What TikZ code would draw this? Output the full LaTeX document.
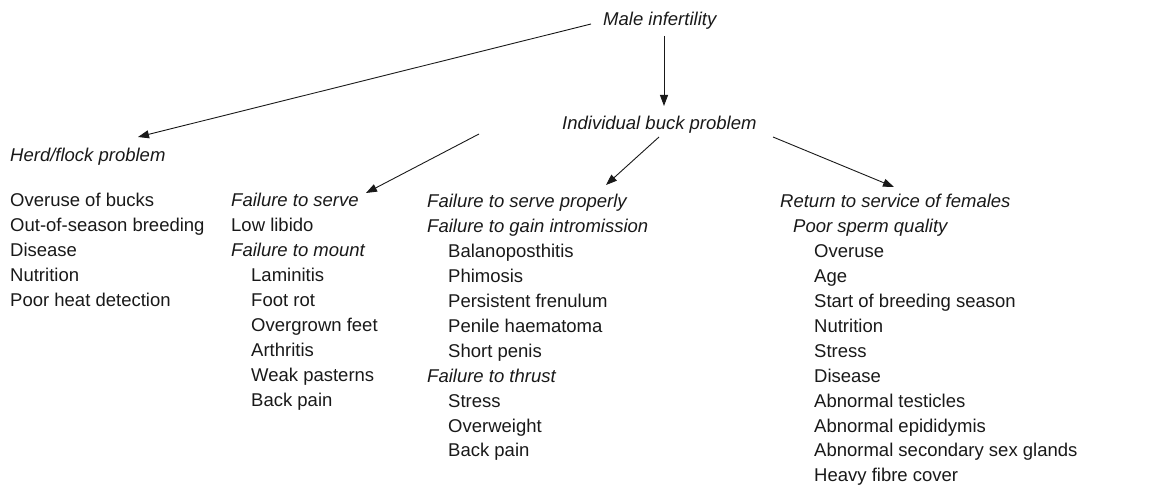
\documentclass[tikz,border=0pt]{standalone}
\usepackage{fontspec}
\setmainfont{Liberation Sans}
\usetikzlibrary{arrows.meta}
\begin{document}
\begin{tikzpicture}[x=1pt,y=-1pt,
  txt/.style={inner sep=0pt, anchor=base west, text=black!90, font=\fontsize{18.5}{24}\selectfont},
  head/.style={txt, font=\fontsize{18.5}{24}\selectfont\itshape},
  arr/.style={line width=0.9pt, black!90, -{Triangle[length=11pt,width=8pt]}}]
\useasboundingbox (0,0) rectangle (1163,486);
% top level
\node[head] (male) at (603,26) {Male infertility};
\node[head] (ind) at (562,130) {Individual buck problem};
\node[head] (herd) at (10,162) {Herd/flock problem};
% column 1
\foreach \t [count=\i from 0] in {Overuse of bucks,Out-of-season breeding,Disease,Nutrition,Poor heat detection}
  {\node[txt] (a\i) at (10,{207+24.9*\i}) {\t};}
% column 2
\foreach \x/\f/\t [count=\i from 0] in {231/\itshape/Failure to serve,231/\upshape/Low libido,231/\itshape/Failure to mount,251/\upshape/Laminitis,251/\upshape/Foot rot,251/\upshape/Overgrown feet,251/\upshape/Arthritis,251/\upshape/Weak pasterns,251/\upshape/Back pain}
  {\node[txt] (b\i) at (\x,{207+24.9*\i}) {\f\t};}
% column 3
\foreach \x/\f/\t [count=\i from 0] in {427/\itshape/Failure to serve properly,427/\itshape/Failure to gain intromission,448/\upshape/Balanoposthitis,448/\upshape/Phimosis,448/\upshape/Persistent frenulum,448/\upshape/Penile haematoma,448/\upshape/Short penis,427/\itshape/Failure to thrust,448/\upshape/Stress,448/\upshape/Overweight,448/\upshape/Back pain}
  {\node[txt] (c\i) at (\x,{208+24.9*\i}) {\f\t};}
% column 4
\foreach \x/\f/\t [count=\i from 0] in {780/\itshape/Return to service of females,793/\itshape/Poor sperm quality,814/\upshape/Overuse,814/\upshape/Age,814/\upshape/Start of breeding season,814/\upshape/Nutrition,814/\upshape/Stress,814/\upshape/Disease,814/\upshape/Abnormal testicles,814/\upshape/Abnormal epididymis,814/\upshape/Abnormal secondary sex glands,814/\upshape/Heavy fibre cover}
  {\node[txt] (d\i) at (\x,{208+24.9*\i}) {\f\t};}
% connectors
\draw[arr] ([shift={(-12,-2)}]male.base west) -- ([shift={(128,-25)}]herd.base west);
\draw[arr] ([shift={(61,10)}]male.base west) -- ([shift={(102,-24)}]ind.base west);
\draw[arr] ([shift={(-83,4)}]ind.base west) -- ([shift={(135,-14)}]b0.base west);
\draw[arr] ([shift={(97,7)}]ind.base west) -- ([shift={(179,-23)}]c0.base west);
\draw[arr] ([shift={(211,7)}]ind.base west) -- ([shift={(114,-21)}]d0.base west);
\end{tikzpicture}
\end{document}
